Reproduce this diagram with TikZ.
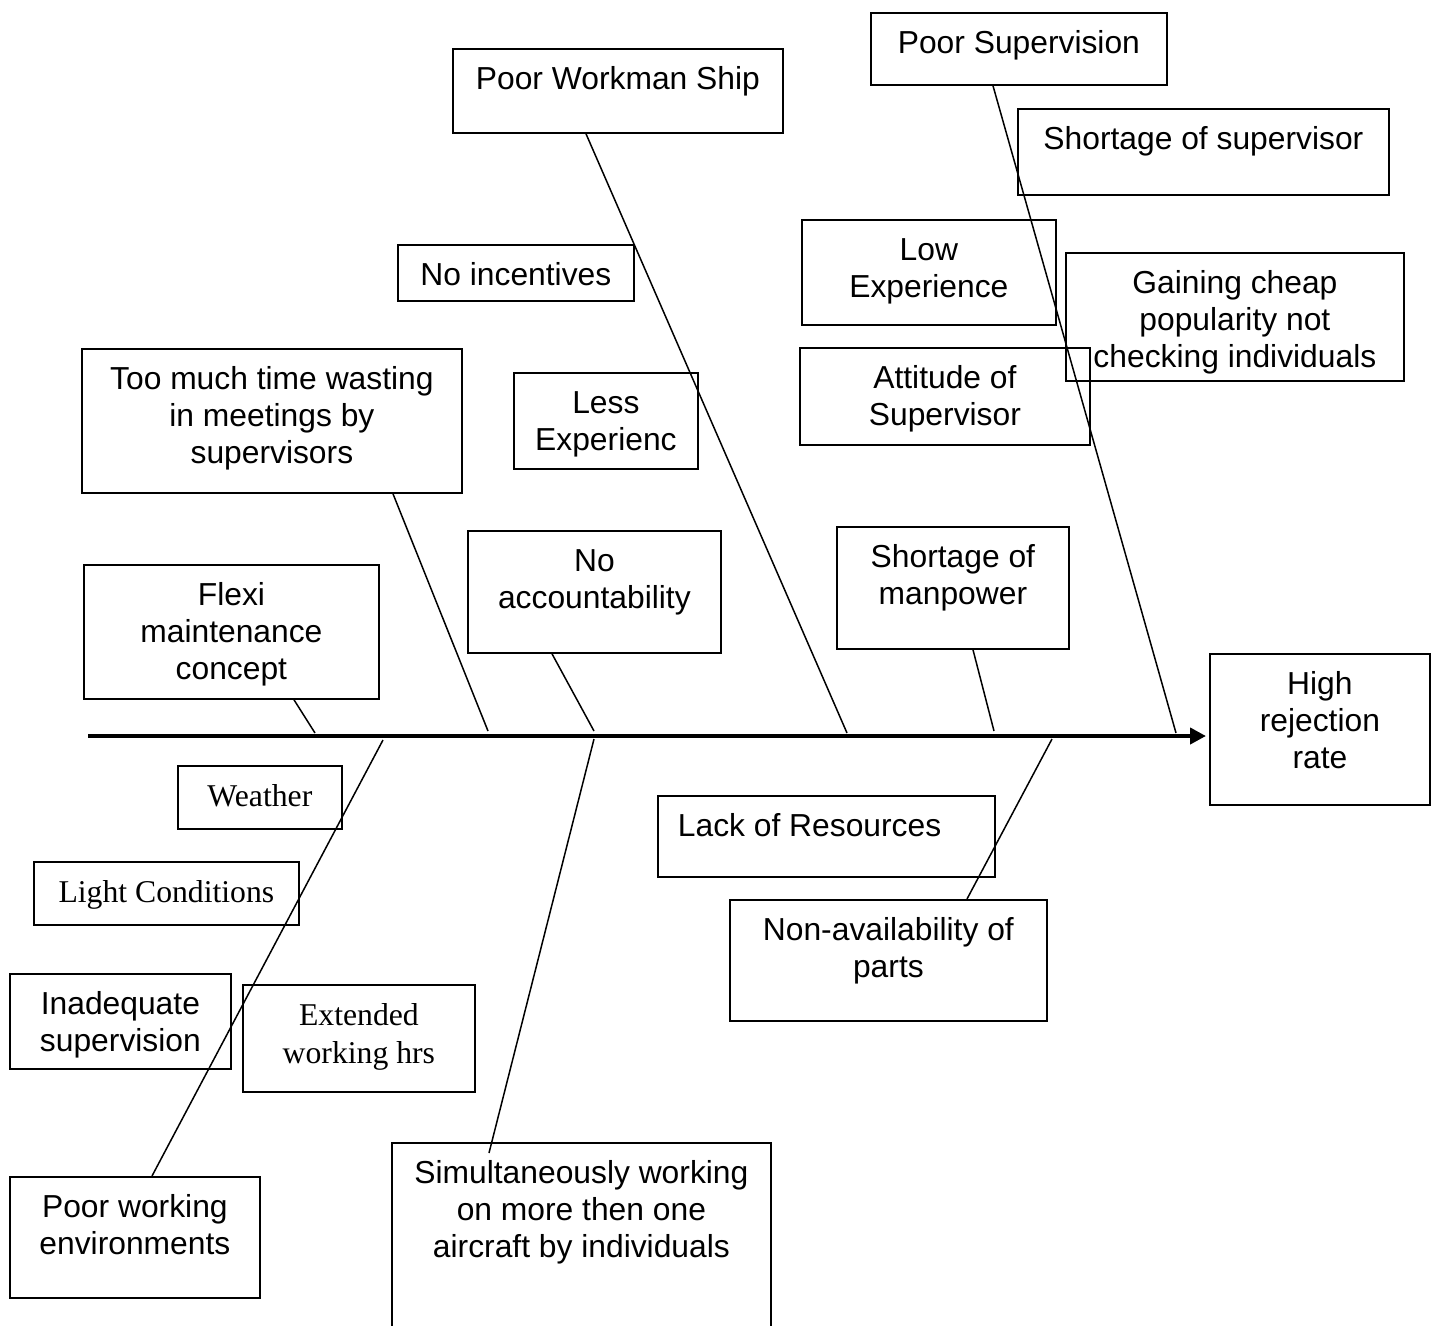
\documentclass[tikz,border=0pt]{standalone}
\usepackage{fontspec}
\setmainfont{Liberation Sans}
\newfontfamily\serifface{Liberation Serif}
\usetikzlibrary{arrows.meta,calc}
\newcommand{\bt}[3]{\parbox[c][#2pt][t]{#1pt}{\centering\vspace*{14pt}\strut #3\par}}
\newcommand{\btl}[3]{\parbox[c][#2pt][t]{#1pt}{\raggedright\vspace*{14pt}\hspace*{20pt}\strut #3\par}}
\newcommand{\bts}[3]{\parbox[c][#2pt][t]{#1pt}{\serifface\fontsize{31.7pt}{38pt}\selectfont\centering\vspace*{13.5pt}\strut #3\par}}
\begin{document}
\begin{tikzpicture}[x=1pt,y=-1pt,
  box/.style={draw, line width=1.8pt, inner sep=0pt, anchor=north west,
    font=\fontsize{31.8pt}{37.3pt}\selectfont},
  bone/.style={line width=1.5pt},
  spine/.style={line width=4.5pt, -{Triangle[length=16pt,width=16pt]}}]
\useasboundingbox (0,0) rectangle (1436,1326);
% boxes
\node[box] (ps) at (870,12)   {\bt{296}{72}{Poor Supervision}};
\node[box] (ss) at (1017,108) {\bt{371}{86}{Shortage of supervisor}};
\node[box] (pw) at (452,48)   {\bt{330}{84}{Poor Workman Ship}};
\node[box] (ni) at (397,244)  {\bt{236}{56}{No incentives}};
\node[box] (le) at (801,219)  {\bt{254}{105}{Low\\Experience}};
\node[box] (gc) at (1065,252) {\bt{338}{128}{Gaining cheap\\popularity not\\checking individuals}};
\node[box] (as) at (799,347)  {\bt{290}{97}{Attitude of\\Supervisor}};
\node[box] (tm) at (81,348)   {\bt{380}{144}{Too much time wasting\\in meetings by\\supervisors}};
\node[box] (lx) at (513,372)  {\bt{184}{96}{Less\\Experienc}};
\node[box] (na) at (467,530)  {\bt{253}{122}{No\\accountability}};
\node[box] (sm) at (836,526)  {\bt{232}{122}{Shortage of\\manpower}};
\node[box] (fm) at (83,564)   {\bt{295}{134}{Flexi\\maintenance\\concept}};
\node[box] (hr) at (1209,653) {\bt{220}{151}{High\\rejection\\rate}};
\node[box] (we) at (177,765)  {\bts{164}{63}{Weather}};
\node[box] (lr) at (657,795)  {\btl{337}{81}{Lack of Resources}};
\node[box] (lc) at (33,861)   {\bts{265}{63}{Light Conditions}};
\node[box] (nv) at (729,899)  {\bt{317}{121}{Non-availability of\\parts}};
\node[box] (is) at (9,973)    {\bt{221}{95}{Inadequate\\supervision}};
\node[box] (ew) at (242,984)  {\bts{232}{107}{Extended\\working hrs}};
\node[box] (pe) at (9,1176)   {\bt{250}{121}{Poor working\\environments}};
\node[box] (si) at (391,1142) {\bt{379}{203}{Simultaneously working\\on more then one\\aircraft by individuals}};
% spine
\coordinate (tail) at (88,736);
\coordinate (head) at (1206,736);
\draw[spine] (tail) -- (head);
% points on spine
\coordinate (s1) at (1176,733);
\coordinate (s2) at (847,733);
\coordinate (s3) at (488,731);
\coordinate (s4) at (594,731);
\coordinate (s5) at (994,731);
\coordinate (s6) at (315,733);
\coordinate (s7) at (383,740);
\coordinate (s8) at (594,739);
\coordinate (s9) at (1052,739);
% bones
\draw[bone] ($(ps.south west)+(123,0)$) -- (s1);
\draw[bone] ($(pw.south west)+(134,0)$) -- (s2);
\draw[bone] ($(tm.south west)+(312,0)$) -- (s3);
\draw[bone] ($(na.south west)+(85,0)$) -- (s4);
\draw[bone] ($(sm.south west)+(137,0)$) -- (s5);
\draw[bone] ($(fm.south west)+(211,0)$) -- (s6);
\draw[bone] ($(pe.north west)+(143,0)$) -- (s7);
\draw[bone] ($(si.north west)+(98,11)$) -- (s8);
\draw[bone] ($(nv.north west)+(238,0)$) -- (s9);
\end{tikzpicture}
\end{document}
